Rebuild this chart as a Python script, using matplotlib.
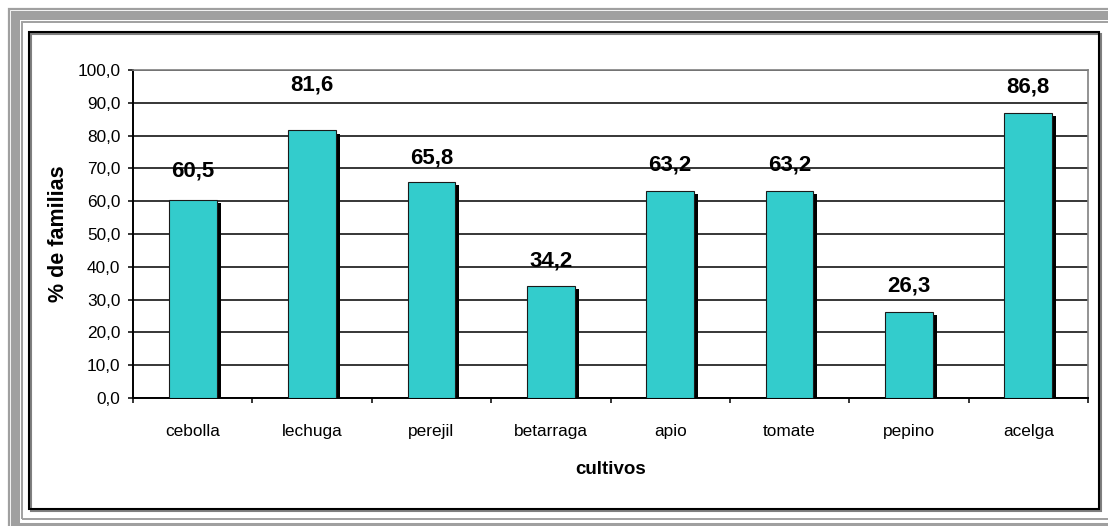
import matplotlib
matplotlib.use("Agg")
import matplotlib.pyplot as plt
import matplotlib.patheffects as pe
from matplotlib.patches import Rectangle
from matplotlib.ticker import FuncFormatter, FixedLocator

plt.rcParams["font.family"] = ["Liberation Sans", "DejaVu Sans"]

# datos: porcentaje de familias que cultivan cada hortaliza
cultivos = ["cebolla", "lechuga", "perejil", "betarraga", "apio", "tomate", "pepino", "acelga"]
porcentaje = [60.5, 81.6, 65.8, 34.2, 63.2, 63.2, 26.3, 86.8]
y_ticks = [0, 10, 20, 30, 40, 50, 60, 70, 80, 90, 100]

# separación (pt) de cada etiqueta sobre su barra
label_offset = [16.5, 28.5, 13.7, 13.7, 14.4, 14.4, 14.4, 15.1]

W, H = 1108, 526
BAR_COLOR = "#33cccc"
FRAME_GRAY = "#a0a0a0"


def coma(v, pos=None):
    return f"{v:.1f}".replace(".", ",")


fig = plt.figure(figsize=(W / 100, H / 100), dpi=100)
fig.patch.set_facecolor("white")


def px_rect(x0, y0, x1, y1, **kw):
    # coordenadas en pixeles medidas desde arriba a la izquierda
    fig.patches.append(Rectangle((x0, H - y1), x1 - x0, y1 - y0,
                                 transform=None, **kw))


# marco exterior gris (tres líneas) y recuadro negro del gráfico
px_rect(9, 9, W + 40, 534, fill=False, edgecolor=FRAME_GRAY, linewidth=1.6)
px_rect(15, 15, W + 40, 527, fill=False, edgecolor=FRAME_GRAY, linewidth=6.5)
px_rect(22, 22, 1130, 519, fill=False, edgecolor=FRAME_GRAY, linewidth=1.4)
px_rect(31, 34, 1101, 511, fill=False, edgecolor="#808080", linewidth=1.5)
px_rect(29, 32, 1099, 509, fill=False, edgecolor="black", linewidth=1.5)

ax = fig.add_axes([133 / W, (H - 398) / H, (1088 - 133) / W, (398 - 70) / H])

x = list(range(len(cultivos)))
bars = ax.bar(x, porcentaje, width=0.40, color=BAR_COLOR, edgecolor="#1a1a1a",
              linewidth=0.8, zorder=3)
for b in bars:
    b.set_path_effects([pe.SimplePatchShadow(offset=(2.9, -2.3), shadow_rgbFace="black",
                                             alpha=1.0),
                        pe.Normal()])

for xi, v, off in zip(x, porcentaje, label_offset):
    ax.annotate(coma(v), (xi, v), xytext=(0, off), textcoords="offset points",
                ha="center", va="baseline", fontsize=16, fontweight="bold", zorder=5)

ax.set_xlim(-0.5, len(cultivos) - 0.5)
ax.set_ylim(0, 100)

ax.yaxis.set_major_locator(FixedLocator(y_ticks))
ax.yaxis.set_major_formatter(FuncFormatter(coma))
ax.grid(axis="y", color="black", linewidth=1.1, zorder=0)
ax.set_axisbelow(True)

ax.set_xticks(x)
ax.set_xticklabels(cultivos)
ax.set_xticks([i - 0.5 for i in range(len(cultivos) + 1)], minor=True)
ax.tick_params(axis="x", which="major", length=0, pad=19, labelsize=12.4)
ax.tick_params(axis="x", which="minor", length=3.6, width=1.1, direction="out")
ax.tick_params(axis="y", length=3.6, width=1.1, pad=5.5, labelsize=12.4)

for side in ["left", "bottom"]:
    ax.spines[side].set_color("black")
    ax.spines[side].set_linewidth(1.4)
for side in ["top", "right"]:
    ax.spines[side].set_color("#808080")
    ax.spines[side].set_linewidth(1.2)

ax.set_xlabel("cultivos", fontsize=13.5, fontweight="bold", va="center")
ax.xaxis.set_label_coords(0.5, (398 - 470) / 328)
ax.set_ylabel("% de familias", fontsize=15.5, fontweight="bold", va="center")
ax.yaxis.set_label_coords((59 - 133) / 955, 0.5)

fig.savefig("out.png", dpi=100)
